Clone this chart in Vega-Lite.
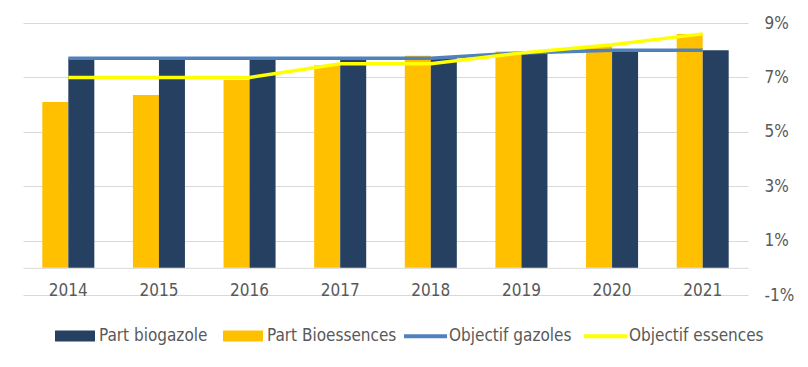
{
  "$schema": "https://vega.github.io/schema/vega-lite/v6.json",
  "width": 725,
  "height": 272,
  "autosize": {"type": "none"},
  "padding": {"left": 23, "top": 23, "right": 60, "bottom": 72},
  "background": "white",
  "config": {
    "view": {"stroke": null},
    "font": "DejaVu Sans Condensed, DejaVu Sans",
    "axis": {"labelFont": "DejaVu Sans Condensed, DejaVu Sans", "labelColor": "#595959"},
    "legend": {"labelFont": "DejaVu Sans Condensed, DejaVu Sans", "labelColor": "#595959"}
  },
  "datasets": {
    "bars": [
      {"year": "2014", "series": "Part Bioessences", "value": 6.1},
      {"year": "2015", "series": "Part Bioessences", "value": 6.35},
      {"year": "2016", "series": "Part Bioessences", "value": 6.9},
      {"year": "2017", "series": "Part Bioessences", "value": 7.45},
      {"year": "2018", "series": "Part Bioessences", "value": 7.8},
      {"year": "2019", "series": "Part Bioessences", "value": 7.95},
      {"year": "2020", "series": "Part Bioessences", "value": 8.15},
      {"year": "2021", "series": "Part Bioessences", "value": 8.6},
      {"year": "2014", "series": "Part biogazole", "value": 7.7},
      {"year": "2015", "series": "Part biogazole", "value": 7.7},
      {"year": "2016", "series": "Part biogazole", "value": 7.7},
      {"year": "2017", "series": "Part biogazole", "value": 7.7},
      {"year": "2018", "series": "Part biogazole", "value": 7.7},
      {"year": "2019", "series": "Part biogazole", "value": 7.9},
      {"year": "2020", "series": "Part biogazole", "value": 8.0},
      {"year": "2021", "series": "Part biogazole", "value": 8.0}
    ],
    "lines": [
      {"year": "2014", "series": "Objectif gazoles", "value": 7.7},
      {"year": "2015", "series": "Objectif gazoles", "value": 7.7},
      {"year": "2016", "series": "Objectif gazoles", "value": 7.7},
      {"year": "2017", "series": "Objectif gazoles", "value": 7.7},
      {"year": "2018", "series": "Objectif gazoles", "value": 7.7},
      {"year": "2019", "series": "Objectif gazoles", "value": 7.9},
      {"year": "2020", "series": "Objectif gazoles", "value": 8.0},
      {"year": "2021", "series": "Objectif gazoles", "value": 8.0},
      {"year": "2014", "series": "Objectif essences", "value": 7.0},
      {"year": "2015", "series": "Objectif essences", "value": 7.0},
      {"year": "2016", "series": "Objectif essences", "value": 7.0},
      {"year": "2017", "series": "Objectif essences", "value": 7.5},
      {"year": "2018", "series": "Objectif essences", "value": 7.5},
      {"year": "2019", "series": "Objectif essences", "value": 7.9},
      {"year": "2020", "series": "Objectif essences", "value": 8.2},
      {"year": "2021", "series": "Objectif essences", "value": 8.6}
    ]
  },
  "encoding": {
    "x": {
      "field": "year", "type": "nominal",
      "scale": {"paddingInner": 0.426, "paddingOuter": 0.213},
      "axis": {"title": null, "orient": "bottom", "offset": -27.2, "labelAngle": 0, "labelFontSize": 17, "labelPadding": 15, "domainColor": "#d9d9d9", "domainWidth": 1, "ticks": false, "grid": false}
    },
    "y": {
      "field": "value", "type": "quantitative",
      "scale": {"domain": [-1, 9], "nice": false, "zero": false},
      "axis": {"title": null, "orient": "right", "values": [-1, 1, 3, 5, 7, 9], "labelExpr": "datum.value + '%'", "labelFontSize": 17, "labelPadding": 16, "domain": false, "ticks": false, "grid": true, "gridColor": "#d9d9d9", "gridWidth": 1}
    }
  },
  "layer": [
    {
      "data": {"name": "bars"},
      "mark": {"type": "bar"},
      "encoding": {
        "y2": {"datum": 0},
        "xOffset": {"field": "series", "sort": ["Part Bioessences", "Part biogazole"]},
        "fill": {
          "field": "series", "type": "nominal",
          "scale": {"domain": ["Part biogazole", "Part Bioessences"], "range": ["#254061", "#FFC000"]},
          "legend": {"title": null, "orient": "none", "direction": "horizontal", "legendX": 32, "legendY": 293, "symbolType": "M-1,-0.275H1V0.275H-1Z", "symbolSize": 1600, "symbolStrokeWidth": 0, "labelFontSize": 17, "labelOffset": 4, "columnPadding": 15, "symbolOpacity": 1}
        }
      }
    },
    {
      "data": {"name": "lines"},
      "mark": {"type": "line", "strokeWidth": 3.5},
      "encoding": {
        "stroke": {
          "field": "series", "type": "nominal",
          "scale": {"domain": ["Objectif gazoles", "Objectif essences"], "range": ["#4F81BD", "#FFFF00"]},
          "legend": {"title": null, "orient": "none", "direction": "horizontal", "legendX": 379, "legendY": 289.5, "symbolType": "stroke", "symbolSize": 1849, "symbolStrokeWidth": 4, "labelFontSize": 17, "labelOffset": 0, "columnPadding": 4}
        }
      }
    }
  ]
}
